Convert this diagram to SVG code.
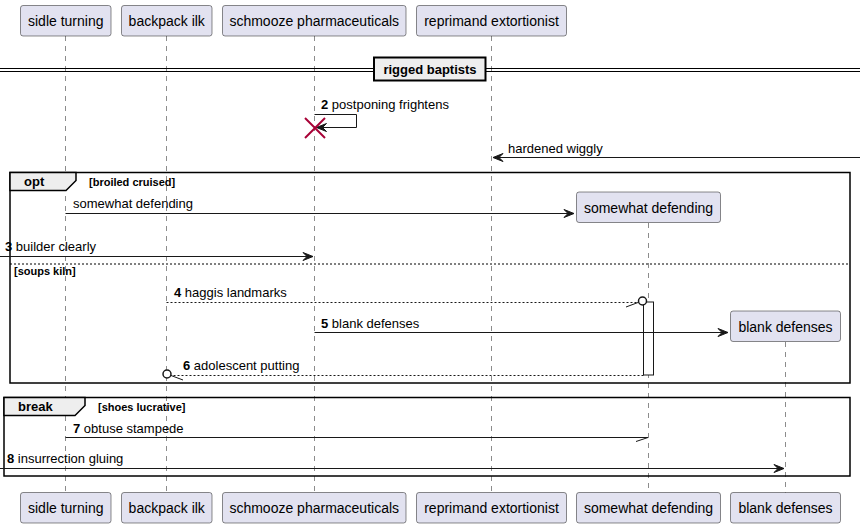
<svg xmlns="http://www.w3.org/2000/svg" width="866" height="528" viewBox="0 0 866 528">
<style>
text{font-family:"Liberation Sans",Arial,sans-serif;fill:#000}
.pbox{fill:#E2E2F0;stroke:#181818;stroke-width:0.5}
.pt{font-size:14px;text-anchor:middle}
.life{stroke:#181818;stroke-width:0.5;stroke-dasharray:5,5;fill:none}
.msg{stroke:#181818;stroke-width:1;fill:none}
.dash{stroke:#181818;stroke-width:1;fill:none;stroke-dasharray:2,2}
.head{fill:#181818;stroke:#181818;stroke-width:1}
.mt{font-size:13px}
.b{font-weight:bold}
.frame{fill:none;stroke:#000;stroke-width:1.5}
.fhead{fill:#EEEEEE;stroke:#000;stroke-width:1.5}
.fl{font-size:13px;font-weight:bold}
.fc{font-size:11px;font-weight:bold}
</style>
<rect width="866" height="528" fill="#FFFFFF"/>
<g id="lifelines">
<line class="life" x1="65.5" y1="36" x2="65.5" y2="493"/>
<line class="life" x1="166.5" y1="36" x2="166.5" y2="493"/>
<line class="life" x1="314.5" y1="36" x2="314.5" y2="493"/>
<line class="life" x1="491.5" y1="36" x2="491.5" y2="493"/>
<line class="life" x1="648.5" y1="223" x2="648.5" y2="493"/>
<line class="life" x1="785.5" y1="342" x2="785.5" y2="493"/>
</g>
<g id="divider">
<line x1="0" y1="68.5" x2="860" y2="68.5" stroke="#000" stroke-width="1"/>
<line x1="0" y1="71.5" x2="860" y2="71.5" stroke="#000" stroke-width="1"/>
<rect x="374" y="57.5" width="111.5" height="23" fill="#EEEEEE" stroke="#000" stroke-width="2"/>
<text class="fl" x="430" y="74" text-anchor="middle">rigged baptists</text>
</g>
<g id="frame-opt">
<rect class="frame" x="10" y="172.5" width="840" height="210.5"/>
<polygon class="fhead" points="10,172.5 76,172.5 76,180.5 66,190.5 10,190.5"/>
<text class="fl" x="24" y="186">opt</text>
<text class="fc" x="89" y="186">[broiled cruised]</text>
<line x1="10" y1="264" x2="850" y2="264" stroke="#000" stroke-width="1" stroke-dasharray="2,2"/>
<text class="fc" x="14" y="275">[soups kiln]</text>
</g>
<g id="frame-break">
<rect class="frame" x="4" y="397.5" width="846" height="78.5"/>
<polygon class="fhead" points="4,397.5 85,397.5 85,405.5 75,415.5 4,415.5"/>
<text class="fl" x="18" y="411">break</text>
<text class="fc" x="98" y="411">[shoes lucrative]</text>
</g>
<g id="activation">
<rect x="643.5" y="302" width="10" height="73" fill="#FFFFFF" stroke="#181818" stroke-width="1"/>
</g>
<g id="connectors">
<polyline class="msg" points="314.5,114.5 356.5,114.5 356.5,127.5 315.5,127.5"/>
<polygon class="head" points="326.5,123.5 316.5,127.5 326.5,131.5 322.5,127.5"/>
<text class="mt" x="321" y="109"><tspan class="b">2</tspan> postponing frightens</text>
<line class="msg" x1="860" y1="157.5" x2="493" y2="157.5"/>
<polygon class="head" points="503,153.5 493,157.5 503,161.5 499,157.5"/>
<text class="mt" x="508" y="153">hardened wiggly</text>
<line class="msg" x1="65.5" y1="213.5" x2="574" y2="213.5"/>
<polygon class="head" points="564,209.5 574,213.5 564,217.5 568,213.5"/>
<text class="mt" x="73" y="208">somewhat defending</text>
<line class="msg" x1="0" y1="256.5" x2="313" y2="256.5"/>
<polygon class="head" points="303,252.5 313,256.5 303,260.5 307,256.5"/>
<text class="mt" x="5" y="251"><tspan class="b">3</tspan> builder clearly</text>
<line class="dash" x1="166.5" y1="302.5" x2="638" y2="302.5"/>
<line class="msg" x1="626" y1="307" x2="638" y2="302.5"/>
<circle cx="642.5" cy="301" r="4" fill="#FFFFFF" stroke="#181818" stroke-width="1.5"/>
<text class="mt" x="174" y="297"><tspan class="b">4</tspan> haggis landmarks</text>
<line class="msg" x1="314.5" y1="332.5" x2="728" y2="332.5"/>
<polygon class="head" points="718,328.5 728,332.5 718,336.5 722,332.5"/>
<text class="mt" x="321" y="328"><tspan class="b">5</tspan> blank defenses</text>
<line class="dash" x1="643.5" y1="375.5" x2="171" y2="375.5"/>
<line class="msg" x1="171" y1="375.5" x2="183" y2="380"/>
<circle cx="167" cy="374" r="4" fill="#FFFFFF" stroke="#181818" stroke-width="1.5"/>
<text class="mt" x="183" y="370"><tspan class="b">6</tspan> adolescent putting</text>
<line class="msg" x1="65.5" y1="437.5" x2="648" y2="437.5"/>
<line class="msg" x1="636" y1="441.5" x2="648" y2="437.5"/>
<text class="mt" x="73" y="433"><tspan class="b">7</tspan> obtuse stampede</text>
<line class="msg" x1="0" y1="468.5" x2="784" y2="468.5"/>
<polygon class="head" points="774,464.5 784,468.5 774,472.5 778,468.5"/>
<text class="mt" x="7" y="463"><tspan class="b">8</tspan> insurrection gluing</text>
</g>
<g id="destroy">
<line x1="305" y1="118" x2="325" y2="138" stroke="#A80036" stroke-width="2"/>
<line x1="325" y1="118" x2="305" y2="138" stroke="#A80036" stroke-width="2"/>
</g>
<g id="p-sidle-turning">
<rect class="pbox" x="20.5" y="5.5" width="90.5" height="30.5" rx="2.5"/>
<text class="pt" x="65.75" y="26">sidle turning</text>
<rect class="pbox" x="20.5" y="492.5" width="90.5" height="30.5" rx="2.5"/>
<text class="pt" x="65.75" y="513">sidle turning</text>
</g>
<g id="p-backpack-ilk">
<rect class="pbox" x="121.5" y="5.5" width="90.5" height="30.5" rx="2.5"/>
<text class="pt" x="166.75" y="26">backpack ilk</text>
<rect class="pbox" x="121.5" y="492.5" width="90.5" height="30.5" rx="2.5"/>
<text class="pt" x="166.75" y="513">backpack ilk</text>
</g>
<g id="p-schmooze-pharmaceuticals">
<rect class="pbox" x="222.5" y="5.5" width="183.5" height="30.5" rx="2.5"/>
<text class="pt" x="314.25" y="26">schmooze pharmaceuticals</text>
<rect class="pbox" x="222.5" y="492.5" width="183.5" height="30.5" rx="2.5"/>
<text class="pt" x="314.25" y="513">schmooze pharmaceuticals</text>
</g>
<g id="p-reprimand-extortionist">
<rect class="pbox" x="416.5" y="5.5" width="150" height="30.5" rx="2.5"/>
<text class="pt" x="491.5" y="26">reprimand extortionist</text>
<rect class="pbox" x="416.5" y="492.5" width="150" height="30.5" rx="2.5"/>
<text class="pt" x="491.5" y="513">reprimand extortionist</text>
</g>
<g id="p-somewhat-defending">
<rect class="pbox" x="576.5" y="192" width="144" height="30.5" rx="2.5"/>
<text class="pt" x="648.5" y="212.5">somewhat defending</text>
<rect class="pbox" x="576.5" y="492.5" width="144" height="30.5" rx="2.5"/>
<text class="pt" x="648.5" y="513">somewhat defending</text>
</g>
<g id="p-blank-defenses">
<rect class="pbox" x="730.5" y="311" width="110" height="30.5" rx="2.5"/>
<text class="pt" x="785.5" y="331.5">blank defenses</text>
<rect class="pbox" x="730.5" y="492.5" width="110" height="30.5" rx="2.5"/>
<text class="pt" x="785.5" y="513">blank defenses</text>
</g>
</svg>
